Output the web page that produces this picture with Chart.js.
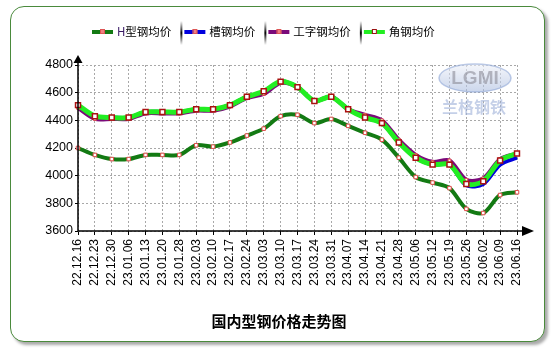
<!DOCTYPE html>
<html>
<head>
<meta charset="utf-8">
<script src="https://cdn.jsdelivr.net/npm/chart.js@4.4.0/dist/chart.umd.min.js"></script>
<style>
  body { margin: 0; background: #fff; }
  #wrap { position: relative; width: 557px; height: 351px; }
  #frame {
    position: absolute; left: 10px; top: 6px; width: 533px; height: 334px;
    border: 1.5px solid #4a8a3c; border-radius: 14px;
    box-shadow: 3px 3px 3px #aaa; background: #fff;
  }
  #steel-chart { position: absolute; left: 0; top: 0; }
</style>
</head>
<body>
<div id="wrap">
  <div id="frame"></div>
  <canvas id="steel-chart" width="557" height="351"></canvas>
</div>
<script>
const weeks = ['22.12.16', '22.12.23', '22.12.30', '23.01.06', '23.01.13', '23.01.20', '23.01.28',
  '23.02.03', '23.02.10', '23.02.17', '23.02.24', '23.03.03', '23.03.10', '23.03.17', '23.03.24',
  '23.03.31', '23.04.07', '23.04.14', '23.04.21', '23.04.28', '23.05.06', '23.05.12', '23.05.19',
  '23.05.26', '23.06.02', '23.06.09', '23.06.16']

const hSteel = [4200, 4150, 4120, 4120, 4150, 4150, 4150, 4220, 4210, 4240, 4290, 4340, 4430, 4440,
  4380, 4410, 4360, 4310, 4260, 4130, 3990, 3950, 3910, 3760, 3730, 3860, 3880]
const channelSteel = [4500, 4420, 4420, 4420, 4460, 4460, 4460, 4480, 4480, 4510, 4570, 4600, 4680, 4640,
  4540, 4570, 4480, 4420, 4380, 4240, 4130, 4080, 4080, 3930, 3940, 4080, 4130]
const iBeam = [4490, 4410, 4410, 4410, 4450, 4450, 4450, 4470, 4470, 4500, 4560, 4590, 4670, 4640,
  4540, 4570, 4480, 4440, 4400, 4260, 4150, 4100, 4110, 3970, 3980, 4120, 4160]
const angleSteel = [4510, 4430, 4420, 4420, 4460, 4460, 4460, 4480, 4480, 4510, 4570, 4610, 4680, 4640,
  4540, 4570, 4480, 4420, 4380, 4240, 4130, 4080, 4080, 3940, 3960, 4110, 4160]

const yTicks = [3600, 3800, 4000, 4200, 4400, 4600, 4800]
const seriesNames = ['H型钢均价', '槽钢均价', '工字钢均价', '角钢均价']
const chartTitle = '国内型钢价格走势图'

const colors = ['#137a13', '#0000dd', '#7a0a7a', '#22ee22']

// legend, axes with arrows, title and the faint logo
const decorations = {
  id: 'decorations',
  beforeDatasetsDraw(chart) {
    const ctx = chart.ctx
    ctx.save()
    ctx.globalAlpha = 0.6
    let grad = ctx.createLinearGradient(0, 64, 0, 92)
    grad.addColorStop(0, '#eef1f8')
    grad.addColorStop(1, '#a9bbdf')
    ctx.fillStyle = grad
    ctx.strokeStyle = '#8fa6d6'
    ctx.lineWidth = 1.5
    ctx.beginPath()
    ctx.ellipse(475, 78, 36, 14, 0, 0, Math.PI * 2)
    ctx.fill()
    ctx.stroke()
    ctx.fillStyle = '#8c8c98'
    ctx.font = 'bold 19px Arial'
    ctx.textAlign = 'center'
    ctx.textBaseline = 'middle'
    ctx.fillText('LGMI', 475, 79)
    ctx.fillStyle = '#9fb1d8'
    ctx.font = 'bold 16px "Noto Sans CJK SC"'
    ctx.fillText('兰格钢铁', 474, 107)
    ctx.restore()
  },
  afterDraw(chart) {
    const ctx = chart.ctx
    const area = chart.chartArea
    ctx.save()
    // axes
    ctx.strokeStyle = '#000'
    ctx.lineWidth = 1.5
    ctx.beginPath()
    ctx.moveTo(area.left, area.top - 3)
    ctx.lineTo(area.left, area.bottom)
    ctx.lineTo(area.right + 6, area.bottom)
    ctx.stroke()
    ctx.fillStyle = '#000'
    ctx.beginPath()
    ctx.moveTo(area.left, area.top - 10)
    ctx.lineTo(area.left - 4.5, area.top - 2)
    ctx.lineTo(area.left + 4.5, area.top - 2)
    ctx.fill()
    ctx.beginPath()
    ctx.moveTo(area.right + 17, area.bottom)
    ctx.lineTo(area.right + 5, area.bottom - 5)
    ctx.lineTo(area.right + 5, area.bottom + 5)
    ctx.fill()

    // legend
    ctx.font = '11.5px "Noto Sans CJK SC"'
    ctx.textBaseline = 'middle'
    ctx.textAlign = 'left'
    let x = 92
    const ly = 32
    seriesNames.forEach((name, i) => {
      if (i > 0) {
        let g = ctx.createLinearGradient(0, 21, 0, 45)
        g.addColorStop(0, 'rgba(0,0,0,0)')
        g.addColorStop(0.5, '#000')
        g.addColorStop(1, 'rgba(0,0,0,0)')
        ctx.fillStyle = g
        ctx.fillRect(x - 2, 21, 2, 24)
        x += 2
      }
      ctx.fillStyle = colors[i]
      ctx.fillRect(x, ly - 2, 21, 4)
      ctx.fillStyle = i == 3 ? '#fff' : '#f08080'
      ctx.strokeStyle = i == 3 ? '#991111' : '#dd5555'
      ctx.lineWidth = 1
      ctx.fillRect(x + 9, ly - 2, 4, 4)
      ctx.strokeRect(x + 8.5, ly - 2.5, 4, 4)
      ctx.fillStyle = '#000'
      if (i == 0) {
        ctx.fillStyle = '#3a1a66'
        ctx.fillText('H', x + 25, ly)
        ctx.fillStyle = '#000'
        ctx.fillText(name.slice(1), x + 25 + ctx.measureText('H').width, ly)
      } else {
        ctx.fillText(name, x + 25, ly)
      }
      x += 25 + ctx.measureText(name).width + 11
    })

    // title
    ctx.font = 'bold 15px "Noto Sans CJK SC"'
    ctx.textAlign = 'center'
    ctx.fillStyle = '#000'
    ctx.fillText(chartTitle, 279, 321)
    ctx.restore()
  }
}

const lineDefaults = {
  fill: false,
  tension: 0.3,
  pointBackgroundColor: '#fff'
}

const steelChartConfig = {
  type: 'line',
  data: {
    labels: weeks,
    datasets: [{
      ...lineDefaults,
      label: seriesNames[0],
      data: hSteel,
      borderColor: colors[0],
      borderWidth: 4,
      pointStyle: 'rect',
      pointRadius: 2.5,
      pointBorderColor: '#e24a4a',
      pointBorderWidth: 1,
      order: 1
    },
    {
      ...lineDefaults,
      label: seriesNames[1],
      data: channelSteel,
      borderColor: colors[1],
      borderWidth: 4,
      pointRadius: 0,
      order: 3
    },
    {
      ...lineDefaults,
      label: seriesNames[2],
      data: iBeam,
      borderColor: colors[2],
      borderWidth: 4,
      pointStyle: 'rect',
      pointRadius: 2,
      pointBorderColor: '#e24a4a',
      pointBorderWidth: 1,
      order: 2
    },
    {
      ...lineDefaults,
      label: seriesNames[3],
      data: angleSteel,
      borderColor: colors[3],
      borderWidth: 5,
      pointStyle: 'rect',
      pointRadius: 3.5,
      pointBorderColor: '#aa1111',
      pointBorderWidth: 1.5,
      order: 0
    }]
  },
  options: {
    responsive: false,
    animation: false,
    layout: {
      padding: { left: 38, right: 40, top: 65, bottom: 40 }
    },
    plugins: {
      legend: { display: false },
      tooltip: { enabled: false }
    },
    scales: {
      x: {
        offset: false,
        grid: {
          color: '#a8a8a8',
          tickColor: '#000',
          tickLength: 4
        },
        border: { display: false, dash: [2, 2] },
        ticks: {
          autoSkip: false,
          maxRotation: 90,
          minRotation: 90,
          padding: 4,
          color: '#000',
          font: { family: 'Arial', size: 12 }
        },
        afterFit: (scale) => { scale.height = 80 }
      },
      y: {
        min: yTicks[0],
        max: yTicks[yTicks.length - 1],
        afterBuildTicks: (scale) => { scale.ticks = yTicks.map(v => ({ value: v })) },
        grid: {
          color: '#a8a8a8',
          tickColor: '#000',
          tickLength: 3
        },
        border: { display: false, dash: [2, 2] },
        ticks: {
          padding: 2,
          color: '#000',
          font: { family: 'Arial', size: 12.5 },
          callback: function (value) {
            return String(value)
          }
        },
        afterFit: (scale) => { scale.width = 40 }
      }
    }
  },
  plugins: [decorations]
}

const chartElement = document.getElementById('steel-chart').getContext('2d')
const steelChart = new Chart(chartElement, steelChartConfig)
</script>
</body>
</html>
